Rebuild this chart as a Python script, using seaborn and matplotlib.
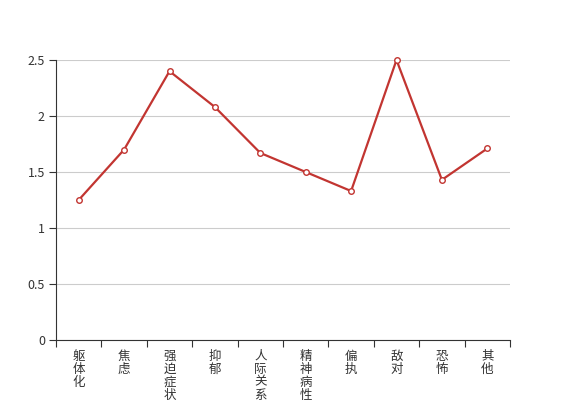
import matplotlib
matplotlib.use("Agg")
import matplotlib.pyplot as plt
import seaborn as sns
import pandas as pd
from matplotlib.ticker import FixedLocator

categories = ["躯体化", "焦虑", "强迫症状", "抑郁", "人际关系敏感", "精神病性", "偏执", "敌对", "恐怖", "其他"]
values = [1.25, 1.70, 2.40, 2.08, 1.67, 1.50, 1.33, 2.50, 1.43, 1.71]
y_ticks = [0, 0.5, 1, 1.5, 2, 2.5]
y_tick_labels = ["0", "0.5", "1", "1.5", "2", "2.5"]

sns.set_style("white")
plt.rcParams['font.family'] = ['Noto Sans CJK SC', 'DejaVu Sans']

df = pd.DataFrame({"cat": categories, "val": values, "pos": range(len(categories))})

fig = plt.figure(figsize=(5.67, 4.0), dpi=100)
ax = fig.add_axes([56/567, 60/400, (510-56)/567, 280/400])

sns.lineplot(data=df, x="pos", y="val", ax=ax, color="#c23531", linewidth=1.6,
             marker="o", markersize=4, markerfacecolor="white",
             markeredgecolor="#c23531", markeredgewidth=1.0, sort=False, clip_on=False)

ax.set_xlim(-0.5, len(categories) - 0.5)
ax.set_ylim(0, 2.5)
ax.set_yticks(y_ticks)
ax.set_yticklabels(y_tick_labels)
ax.yaxis.grid(True, color="#cccccc", linewidth=0.8)
ax.set_axisbelow(True)

ax.set_xticks(list(range(len(categories))))
ax.set_xticklabels(["\n".join(c) for c in categories], linespacing=1.0, va="top")
ax.xaxis.set_minor_locator(FixedLocator([i - 0.5 for i in range(len(categories) + 1)]))
ax.tick_params(axis="x", which="major", bottom=True, length=0, pad=7, labelsize=9, labelcolor="#333333")
ax.tick_params(axis="x", which="minor", bottom=True, length=5, width=0.8, color="#333333", direction="out")
ax.tick_params(axis="y", which="major", left=True, length=5, width=0.8, color="#333333", labelsize=9,
               labelcolor="#333333", direction="out", pad=3)

for s in ["top", "right"]:
    ax.spines[s].set_visible(False)
for s in ["left", "bottom"]:
    ax.spines[s].set_color("#333333")
    ax.spines[s].set_linewidth(0.8)

ax.set_xlabel("")
ax.set_ylabel("")

fig.savefig("out.png", dpi=100)
